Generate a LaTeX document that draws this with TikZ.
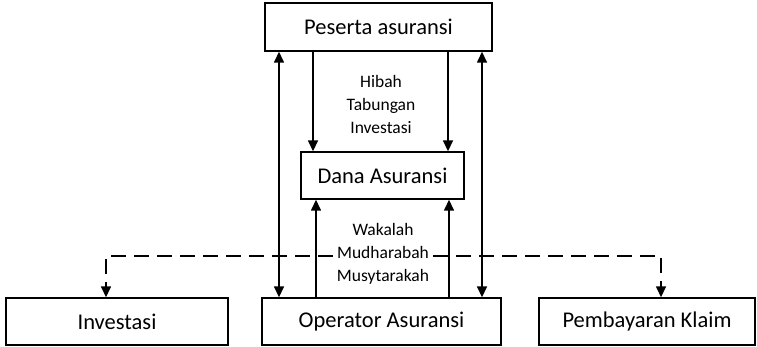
\documentclass[tikz,border=0pt]{standalone}
\usepackage{fontspec}
\setmainfont{Carlito}
\usetikzlibrary{arrows.meta}

\begin{document}
\begin{tikzpicture}[x=1pt, y=-1pt, box/.style={draw, line width=1.4pt, inner sep=0pt, font=\fontsize{22.5}{26}\selectfont}, lbl/.style={anchor=base, inner xsep=4pt, font=\fontsize{17.5}{20}\selectfont}, arr/.style={-{Triangle[length=11pt, width=10pt]}, line width=1.5pt}, biarr/.style={{Triangle[length=11pt, width=10pt]}-{Triangle[length=11pt, width=10pt]}, line width=1.5pt}, dsh/.style={-{Triangle[length=11pt, width=10pt]}, line width=1.5pt, dash pattern=on 15pt off 8pt}]
\useasboundingbox (0,0) rectangle (757,346);
\node[box, minimum width=227pt, minimum height=48pt] (peserta) at (378.5,27) {Peserta asuransi};
\node[box, minimum width=163pt, minimum height=47pt] (dana) at (382.5,175.5) {Dana Asuransi};
\node[box, minimum width=222pt, minimum height=47pt] (inv) at (117,321.5) {Investasi};
\node[box, minimum width=239pt, minimum height=47pt] (op) at (381.5,321.5) {Operator Asuransi};
\node[box, minimum width=216pt, minimum height=47pt] (klaim) at (647,321.5) {Pembayaran Klaim};
% teks akad
\node[lbl] (hibah) at (381,87) {Hibah};
\node[lbl] (tabungan) at (381,110) {Tabungan};
\node[lbl] (investasi) at (381,133) {Investasi};
\node[lbl] (wakalah) at (383,235) {Wakalah};
\node[lbl] (mudh) at (383,258) {Mudharabah};
\node[lbl] (musy) at (383,281) {Musytarakah};
% kolom garis
\coordinate (xa) at (279,0);
\coordinate (xb) at (313,0);
\coordinate (xc) at (316,0);
\coordinate (xd) at (448,0);
\coordinate (xe) at (449,0);
\coordinate (xf) at (482,0);
\coordinate (xg) at (106,0);
\coordinate (xh) at (661,0);
\draw[biarr] (peserta.south -| xa) -- (op.north -| xa);
\draw[biarr] (peserta.south -| xf) -- (op.north -| xf);
\draw[arr] (peserta.south -| xb) -- (dana.north -| xb);
\draw[arr] (peserta.south -| xd) -- (dana.north -| xd);
\draw[arr] (op.north -| xc) -- (dana.south -| xc);
\draw[arr] (op.north -| xe) -- (dana.south -| xe);
\draw[dsh] ([yshift=2pt]mudh.base west) -| (inv.north -| xg);
\draw[dsh] ([yshift=2pt]mudh.base east) -| (klaim.north -| xh);
\end{tikzpicture}
\end{document}
